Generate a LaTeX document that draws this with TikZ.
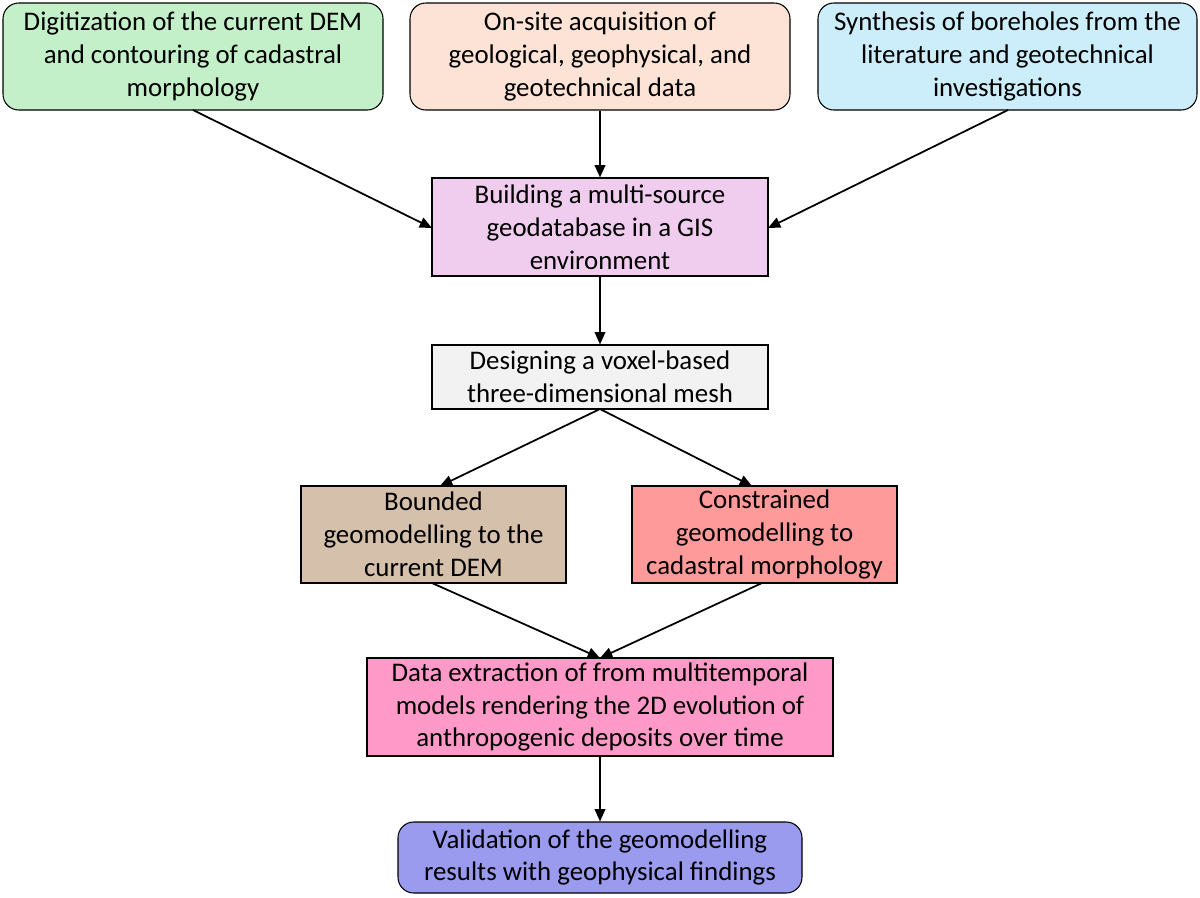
\documentclass[tikz,border=0pt]{standalone}
\usepackage{fontspec}
\setmainfont{Carlito}
\usetikzlibrary{arrows.meta}
\definecolor{cg}{HTML}{C3F0C8}
\definecolor{cp}{HTML}{FCE3D6}
\definecolor{cb}{HTML}{CCEDFA}
\definecolor{cv}{HTML}{F0CDEF}
\definecolor{cgr}{HTML}{F2F2F2}
\definecolor{cbr}{HTML}{D5C0AB}
\definecolor{cr}{HTML}{FF9A9A}
\definecolor{cpk}{HTML}{FF99C7}
\definecolor{cbl}{HTML}{9A9AEE}
\begin{document}
\begin{tikzpicture}[x=0.02cm,y=-0.02cm,
  box/.style={draw=black,line width=0.6pt,align=center,inner sep=0pt,
    font=\fontsize{15.3}{18.7}\selectfont},
  rbox/.style={box,rounded corners=9pt},
  arr/.style={-{Triangle[length=7pt,width=6pt]},line width=1pt}]
\useasboundingbox (0,0) rectangle (1200,897);
\node[rbox,fill=cg,minimum width=380*0.02cm,minimum height=107*0.02cm] (a) at (193,56.5)
 {Digitization of the current DEM\\and contouring of cadastral\\morphology};
\node[rbox,fill=cp,minimum width=380*0.02cm,minimum height=107*0.02cm] (b) at (600,56.5)
 {On-site acquisition of\\geological, geophysical, and\\geotechnical data};
\node[rbox,fill=cb,minimum width=379*0.02cm,minimum height=107*0.02cm] (c) at (1007.5,56.5)
 {Synthesis of boreholes from the\\literature and geotechnical\\investigations};
\node[box,fill=cv,minimum width=336*0.02cm,minimum height=98*0.02cm] (d) at (600,227)
 {Building a multi-source\\geodatabase in a GIS\\environment};
\node[box,fill=cgr,minimum width=336*0.02cm,minimum height=64*0.02cm] (e) at (600,377)
 {Designing a voxel-based\\three-dimensional mesh};
\node[box,fill=cbr,minimum width=265*0.02cm,minimum height=97*0.02cm] (f) at (433.5,534.5)
 {Bounded\\geomodelling to the\\current DEM};
\node[box,fill=cr,minimum width=265*0.02cm,minimum height=97*0.02cm] (g) at (764.5,534.5)
 {Constrained\\geomodelling to\\cadastral morphology};
\node[box,fill=cpk,minimum width=466*0.02cm,minimum height=98*0.02cm] (h) at (600,707)
 {Data extraction of from multitemporal\\models rendering the 2D evolution of\\anthropogenic deposits over time};
\node[rbox,fill=cbl,minimum width=404*0.02cm,minimum height=71*0.02cm] (i) at (600,857.5)
 {Validation of the geomodelling\\results with geophysical findings};
\coordinate (a1) at (193,110); \coordinate (d1) at (432,228);
\coordinate (c1) at (1008,110); \coordinate (d2) at (768,228);
\coordinate (e1) at (600,409); \coordinate (f1) at (440,486); \coordinate (g1) at (752,486);
\coordinate (f2) at (432,583); \coordinate (g2) at (762,583); \coordinate (h1) at (600,658);
\draw[arr] (a1) -- (d1);
\draw[arr] (c1) -- (d2);
\draw[arr] (b.south) -- (d.north);
\draw[arr] (d.south) -- (e.north);
\draw[arr] (e1) -- (f1);
\draw[arr] (e1) -- (g1);
\draw[arr] (f2) -- (h1);
\draw[arr] (g2) -- (h1);
\draw[arr] (h.south) -- (i.north);
\end{tikzpicture}
\end{document}
